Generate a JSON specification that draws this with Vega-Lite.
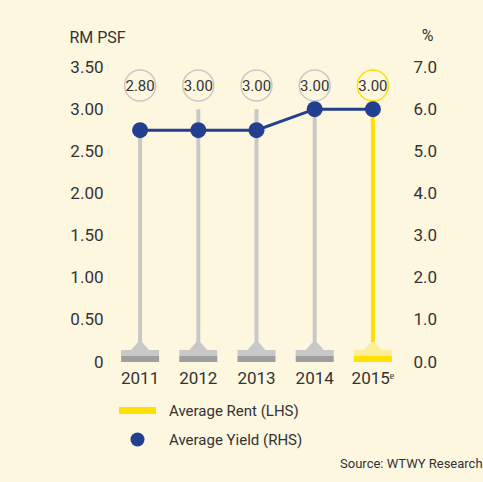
{
  "$schema": "https://vega.github.io/schema/vega-lite/v6.json",
  "autosize": {"type": "none"},
  "width": 291,
  "height": 295,
  "padding": {"left": 111, "top": 67, "right": 81, "bottom": 120},
  "background": "#FEF7E0",
  "config": {
    "view": {"stroke": null},
    "font": "Roboto",
    "axis": {"grid": false, "domain": false, "ticks": false, "labelFont": "Roboto", "labelFontSize": 17, "labelColor": "#333333", "titleFont": "Roboto", "titleFontSize": 16, "titleColor": "#333333", "titleFontWeight": "normal"}
  },
  "title": {"text": "Source: WTWY Research", "orient": "bottom", "anchor": "end", "font": "Roboto", "fontSize": 13, "fontWeight": "normal", "color": "#333333", "dx": 46, "offset": 10},
  "data": {"values": [
    {"year": "2011", "rent": 2.80, "yield": 5.5, "est": false},
    {"year": "2012", "rent": 3.00, "yield": 5.5, "est": false},
    {"year": "2013", "rent": 3.00, "yield": 5.5, "est": false},
    {"year": "2014", "rent": 3.00, "yield": 6.0, "est": false},
    {"year": "2015ᵉ", "rent": 3.00, "yield": 6.0, "est": true}
  ]},
  "encoding": {
    "x": {"field": "year", "type": "ordinal", "sort": null, "scale": {"type": "band", "paddingInner": 0, "paddingOuter": 0}, "axis": {"title": null, "labelAngle": 0, "labelPadding": 8, "orient": "bottom"}}
  },
  "layer": [
    {
      "layer": [
        {
          "transform": [{"filter": "!datum.est"}],
          "mark": {"type": "rule", "strokeWidth": 4, "color": "#C8C8C8"},
          "encoding": {
            "y": {"field": "rent", "type": "quantitative", "scale": {"domain": [0, 3.5], "nice": false}, "axis": {"orient": "left", "values": [0, 0.5, 1, 1.5, 2, 2.5, 3, 3.5], "labelExpr": "datum.value == 0 ? '0' : format(datum.value, '.2f')", "labelPadding": 8, "title": "RM PSF", "titleAngle": 0, "titleAlign": "center", "titleBaseline": "middle", "titleX": -14, "titleY": -30}},
            "y2": {"datum": 0}
          }
        },
        {
          "transform": [{"filter": "datum.est"}],
          "mark": {"type": "rule", "strokeWidth": 4},
          "encoding": {
            "y": {"field": "rent", "type": "quantitative"},
            "y2": {"datum": 0},
            "color": {"datum": "Average Rent (LHS)", "scale": {"domain": ["Average Rent (LHS)", "Average Yield (RHS)"], "range": ["#FFE000", "#233F8F"]},
              "legend": {"orient": "none", "legendX": 19, "legendY": 336, "title": null, "symbolSize": 196, "labelOffset": 24, "rowPadding": 13, "labelFontSize": 15, "labelFont": "Roboto", "labelColor": "#333333", "padding": 0,
                "encode": {"symbols": {"update": {
                  "shape": {"signal": "datum.value === 'Average Rent (LHS)' ? 'M-2.64,-0.5H2.64V0.5H-2.64Z' : 'circle'"},
                  "fill": {"signal": "datum.value === 'Average Rent (LHS)' ? '#FFE000' : '#233F8F'"},
                  "stroke": {"value": "transparent"},
                  "strokeWidth": {"value": 0},
                  "opacity": {"value": 1}
                }}}}}
          }
        },
        {
          "mark": {"type": "bar", "width": 38},
          "encoding": {
            "y": {"datum": 0.07},
            "y2": {"datum": 0.142},
            "color": {"condition": {"test": "datum.est", "value": "#FFEE99"}, "value": "#C8C8C8"}
          }
        },
        {
          "mark": {"type": "bar", "width": 38},
          "encoding": {
            "y": {"datum": 0},
            "y2": {"datum": 0.07},
            "color": {"condition": {"test": "datum.est", "value": "#FFE000"}, "value": "#9E9E9E"}
          }
        },
        {
          "mark": {"type": "point", "filled": true, "opacity": 1, "shape": "M-1,0.45L-0.22,-0.45L0.22,-0.45L1,0.45Z", "size": 324},
          "encoding": {
            "y": {"datum": 0.19},
            "color": {"condition": {"test": "datum.est", "value": "#FFEE99"}, "value": "#C8C8C8"}
          }
        },
        {
          "mark": {"type": "point", "filled": false, "shape": "circle", "size": 961, "strokeWidth": 1.5, "fill": "#FEF7E0", "fillOpacity": 1, "opacity": 1},
          "encoding": {
            "y": {"datum": 3.28},
            "stroke": {"condition": {"test": "datum.est", "value": "#FFE000"}, "value": "#C8C8C8"}
          }
        },
        {
          "mark": {"type": "text", "font": "Roboto", "fontSize": 15, "color": "#333333", "baseline": "middle", "align": "center"},
          "encoding": {
            "y": {"datum": 3.28},
            "text": {"field": "rent", "type": "quantitative", "format": ".2f"}
          }
        }
      ]
    },
    {
      "layer": [
        {
          "mark": {"type": "line", "strokeWidth": 3, "color": "#233F8F"},
          "encoding": {
            "y": {"field": "yield", "type": "quantitative", "scale": {"domain": [0, 7], "nice": false}, "axis": {"orient": "right", "values": [0, 1, 2, 3, 4, 5, 6, 7], "format": ".1f", "labelPadding": 11, "title": "%", "titleAngle": 0, "titleAlign": "center", "titleBaseline": "middle", "titleX": 25, "titleY": -32}}
          }
        },
        {
          "mark": {"type": "point", "filled": true, "opacity": 1, "size": 256},
          "encoding": {
            "y": {"field": "yield", "type": "quantitative"},
            "color": {"datum": "Average Yield (RHS)"}
          }
        }
      ]
    }
  ],
  "resolve": {"scale": {"y": "independent"}}
}
